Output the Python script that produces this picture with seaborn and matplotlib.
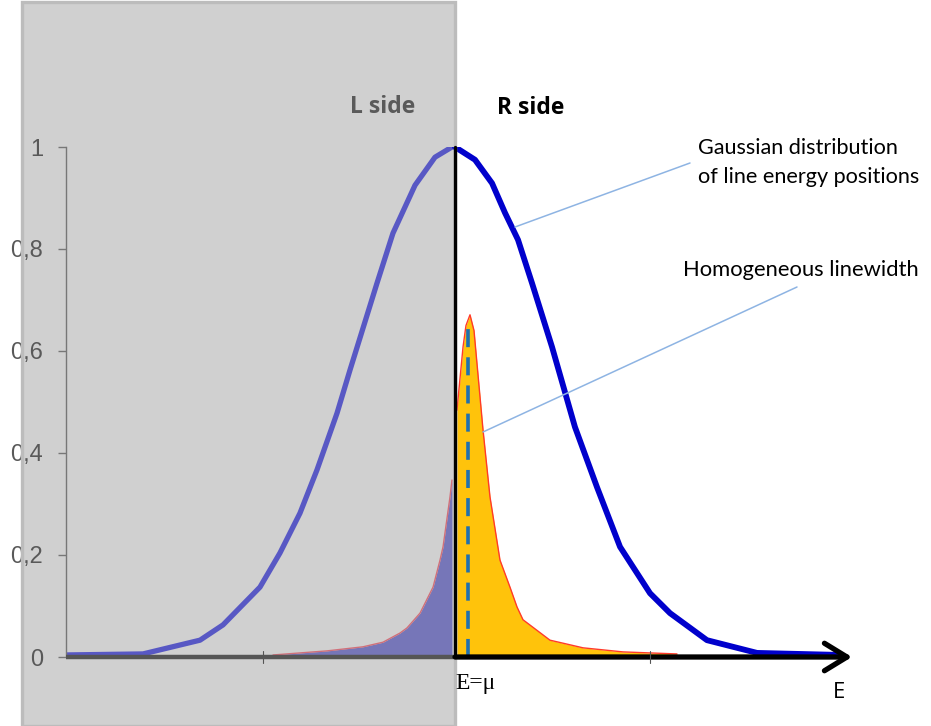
import matplotlib
matplotlib.use("Agg")
import matplotlib.pyplot as plt
import seaborn as sns
from matplotlib.patches import Rectangle, FancyArrowPatch
from matplotlib.lines import Line2D
from matplotlib.ticker import FuncFormatter

# Gaussian distribution of line energy positions (E relative to mu, normalised height)
gauss_left_E = [-3.969, -3.184, -2.602, -2.367, -1.990, -1.786, -1.582, -1.408,
                -1.204, -1.071, -0.796, -0.633, -0.408, -0.204, -0.031]
gauss_left_y = [0.004, 0.006, 0.033, 0.063, 0.137, 0.204, 0.282, 0.367,
                0.478, 0.563, 0.733, 0.831, 0.925, 0.980, 1.000]
gauss_right_E = [0.0, 0.204, 0.378, 0.510, 0.643, 0.786, 0.990, 1.224,
                 1.449, 1.684, 1.990, 2.194, 2.571, 3.082, 3.929]
gauss_right_y = [1.000, 0.975, 0.929, 0.871, 0.818, 0.733, 0.608, 0.451,
                 0.333, 0.216, 0.125, 0.086, 0.033, 0.008, 0.004]

# Homogeneous (Lorentzian) line shape
lor_left_E = [-1.857, -1.306, -0.939, -0.735, -0.561, -0.490, -0.357, -0.224,
              -0.153, -0.122, -0.051, -0.031]
lor_left_y = [0.004, 0.012, 0.020, 0.029, 0.047, 0.057, 0.086, 0.137,
              0.190, 0.216, 0.314, 0.347]
lor_right_E = [0.02, 0.082, 0.112, 0.153, 0.194, 0.224, 0.286, 0.357, 0.459,
               0.561, 0.633, 0.694, 0.969, 1.306, 1.714, 2.265]
lor_right_y = [0.484, 0.608, 0.650, 0.671, 0.640, 0.576, 0.445, 0.314, 0.190,
               0.137, 0.098, 0.073, 0.033, 0.018, 0.010, 0.006]

line_center_E = 0.133
line_center_top = 0.66
y_ticks = [0, 0.2, 0.4, 0.6, 0.8, 1.0]
x_minor_marks = [-1.96, 1.99]

sns.set_theme(style="white")
plt.rcParams["font.family"] = ["Lato", "DejaVu Sans"]

W, H = 931, 726
fig = plt.figure(figsize=(W / 100, H / 100), dpi=100)
fig.patch.set_facecolor("white")

PX_PER_E = 98.0
X0_PX = 455.0
Y0_PX, Y1_PX = 657.0, 147.0
ax_l, ax_r = 66.0, 852.0
ax = fig.add_axes([ax_l / W, 1 - Y0_PX / H, (ax_r - ax_l) / W, (Y0_PX - Y1_PX) / H])
ax.set_xlim((ax_l - X0_PX) / PX_PER_E, (ax_r - X0_PX) / PX_PER_E)
ax.set_ylim(0, 1)
ax.patch.set_alpha(0)

def px_to_data(px, py):
    return (px - X0_PX) / PX_PER_E, (Y0_PX - py) / (Y0_PX - Y1_PX)

# shaded "L side" panel
lx0, ly0 = px_to_data(22, 726)
lx1, ly1 = px_to_data(455, 2)
ax.add_patch(Rectangle((lx0, ly0), lx1 - lx0, ly1 - ly0, facecolor="#d0d0d0",
                       edgecolor="none", clip_on=False, zorder=0))
ax.add_patch(Rectangle((lx0, ly0), lx1 - lx0, ly1 - ly0, facecolor="none",
                       edgecolor="#bcbcbc", lw=2.4, clip_on=False, zorder=3))

# Lorentzian fills
ax.fill_between(lor_left_E, lor_left_y, 0, color="#7676b8", lw=0, zorder=1)
sns.lineplot(x=lor_left_E, y=lor_left_y, color="#d0707a", lw=1.0, ax=ax,
             sort=False, zorder=1.5)
ax.fill_between(lor_right_E, lor_right_y, 0, color="#ffc30b", lw=0, zorder=1)
sns.lineplot(x=lor_right_E, y=lor_right_y, color="#ff3a2a", lw=1.0, ax=ax,
             sort=False, zorder=1.5)

# Gaussian envelope
sns.lineplot(x=gauss_left_E, y=gauss_left_y, color="#5858c4", lw=3.8, ax=ax,
             sort=False, zorder=2)
sns.lineplot(x=gauss_right_E, y=gauss_right_y, color="#0000cc", lw=4.2, ax=ax,
             sort=False, zorder=2)

# line centre E = mu
ax.plot([line_center_E, line_center_E], [0, line_center_top], color="#1f70b0",
        lw=2.6, dashes=(5, 2.8), zorder=2.2, solid_capstyle="butt")

# axes lines
ax.plot([ax.get_xlim()[0], -0.02], [0, 0], color="#555555", lw=3.2, zorder=4,
        solid_capstyle="butt", clip_on=False)
ax.plot([0, 0], [0, 1], color="black", lw=2.4, zorder=5, clip_on=False)
arrow = FancyArrowPatch((0, 0), (ax.get_xlim()[1], 0),
                        arrowstyle="->,head_length=0.9,head_width=0.55",
                        color="black", lw=3.8, zorder=5, clip_on=False,
                        shrinkA=0, shrinkB=0, mutation_scale=18)
ax.add_patch(arrow)
for xm in x_minor_marks:
    ax.plot([xm, xm], [-0.012, 0.012], color="#555555", lw=0.8, zorder=5,
            clip_on=False)

# y axis styling
for s in ["top", "right", "bottom"]:
    ax.spines[s].set_visible(False)
ax.spines["left"].set_color("#777777")
ax.spines["left"].set_linewidth(1.0)
ax.set_yticks(y_ticks)
ax.yaxis.set_major_formatter(FuncFormatter(
    lambda v, p: "0" if v == 0 else ("1" if v == 1 else f"{v:.1f}".replace(".", ","))))
ax.tick_params(axis="y", which="major", left=True, length=5.5, width=1.0,
               color="#777777", pad=11, labelsize=17, labelcolor="#595959")
for lab in ax.get_yticklabels():
    lab.set_fontfamily(["Liberation Sans", "DejaVu Sans"])
ax.set_xticks([])
ax.set_xlabel("")
ax.set_ylabel("")

# labels
def ftext(px, py, s, **kw):
    fig.text(px / W, 1 - py / H, s, **kw)

ftext(383, 107, "L side", ha="center", va="center", fontsize=16.5,
      fontweight="bold", color="#5a5a5a", family=["Open Sans", "DejaVu Sans"])
ftext(531, 108, "R side", ha="center", va="center", fontsize=16.5,
      fontweight="bold", color="black", family=["Open Sans", "DejaVu Sans"])
ftext(698, 148, "Gaussian distribution", ha="left", va="center", fontsize=15.6,
      color="black")
ftext(698, 177, "of line energy positions", ha="left", va="center", fontsize=15.6,
      color="black")
ftext(683, 270, "Homogeneous linewidth", ha="left", va="center", fontsize=15.8,
      color="black")
ftext(455, 683, "E=\u03bc", ha="left", va="center", fontsize=17,
      color="black", family=["Liberation Serif", "DejaVu Serif"])
ftext(839, 692, "E", ha="center", va="center", fontsize=16, color="black",
      family=["Open Sans", "DejaVu Sans"])

# leader lines
for (xa, ya, xb, yb) in [(515, 227, 690, 163), (483, 432, 797, 287)]:
    fig.add_artist(Line2D([xa / W, xb / W], [1 - ya / H, 1 - yb / H],
                          color="#8eb4e3", lw=1.1, zorder=6))

fig.savefig("out.png", dpi=100, facecolor="white")
